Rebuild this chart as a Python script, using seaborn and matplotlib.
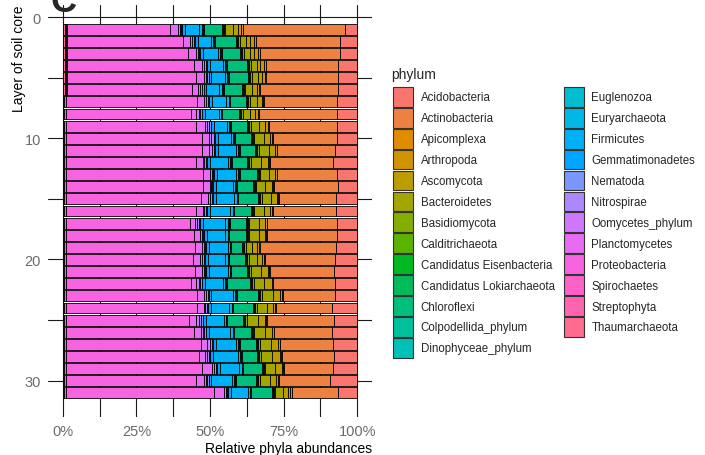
import numpy as np
import pandas as pd
import seaborn as sns
import matplotlib.pyplot as plt
from matplotlib.patches import Patch
from matplotlib.ticker import MultipleLocator, PercentFormatter

# phyla in legend order (ggplot stacks the first level at the right end)
phyla = ['Acidobacteria', 'Actinobacteria', 'Apicomplexa', 'Arthropoda', 'Ascomycota',
         'Bacteroidetes', 'Basidiomycota', 'Calditrichaeota', 'Candidatus Eisenbacteria',
         'Candidatus Lokiarchaeota', 'Chloroflexi', 'Colpodellida_phylum', 'Dinophyceae_phylum',
         'Euglenozoa', 'Euryarchaeota', 'Firmicutes', 'Gemmatimonadetes', 'Nematoda',
         'Nitrospirae', 'Oomycetes_phylum', 'Planctomycetes', 'Proteobacteria',
         'Spirochaetes', 'Streptophyta', 'Thaumarchaeota']

layers = list(range(1, 32))

# relative abundance (%) per layer
acidobacteria = [4.1, 5.8, 6.0, 6.4, 6.4, 6.7, 6.9, 6.9, 6.9, 6.9, 7.5, 8.1, 6.9, 6.4, 7.2, 7.1,
                 6.9, 6.9, 7.1, 7.5, 7.8, 7.5, 7.5, 8.6, 8.0, 8.6, 8.3, 7.8, 8.3, 9.4, 6.7]
actinobacteria = [34.8, 28.6, 27.0, 24.6, 24.5, 26.3, 24.7, 26.3, 22.9, 21.6, 19.6, 21.5, 20.2, 21.8,
                  19.3, 21.6, 23.7, 23.7, 25.9, 23.8, 21.8, 21.0, 17.8, 19.1, 22.7, 19.6, 17.8, 17.7,
                  16.5, 17.2, 15.5]
apicomplexa = [.6, .8, .8, .8, .5, .5, .3, .6, .6, .4, .3, .2, .3, .4, .3, .4,
               .2, .3, .5, .4, .2, .2, .4, .3, .2, .2, .3, .3, .3, .4, .5]
arthropoda = [.9, 1.2, 1.3, 1.2, .8, .7, .5, 1.0, .9, .7, .5, .4, .5, .5, .5, .5,
              .4, .5, .7, .5, .4, .4, .5, .5, .4, .4, .5, .4, .5, .5, .7]
ascomycota = [1.8, 1.4, 1.4, 1.2, 1.5, 1.6, 1.6, 1.6, 1.9, 2.2, 2.2, 2.4, 2.0, 2.1, 2.0, 2.2,
              2.2, 2.1, 1.5, 1.9, 2.4, 2.4, 2.5, 2.2, 2.5, 2.5, 2.5, 2.6, 2.2, 2.2, 1.8]
bacteroidetes = [2.6, 2.1, 2.0, 1.9, 2.2, 2.3, 2.5, 2.5, 2.9, 3.2, 3.4, 3.5, 3.0, 3.1, 3.1, 3.2,
                 3.2, 3.1, 2.2, 2.8, 3.5, 3.7, 3.7, 3.4, 3.7, 3.7, 3.7, 3.9, 3.4, 3.4, 2.6]
basidiomycota = [.5, .5, .5, .5, .5, .5, .5, .5, .5, .5, .5, .5, .5, .5, .5, .5,
                 .5, .5, .5, .5, .5, .5, .5, .5, .5, .5, .5, .5, .5, .5, .5]
calditrichaeota = [.2, .2, .2, .2, .2, .2, .2, .2, .2, .2, .2, .2, .2, .2, .2, .2,
                   .2, .2, .2, .2, .2, .2, .2, .2, .2, .2, .2, .2, .2, .2, .2]
eisenbacteria = [.2, .2, .2, .2, .2, .2, .2, .2, .2, .2, .2, .2, .2, .2, .2, .2,
                 .2, .2, .2, .2, .2, .2, .2, .2, .2, .2, .2, .2, .2, .2, .2]
lokiarchaeota = [.3, .3, .3, .3, .3, .3, .3, .3, .3, .3, .3, .3, .3, .3, .3, .3,
                 .3, .3, .3, .3, .3, .3, .3, .3, .3, .3, .3, .3, .3, .3, .3]
chloroflexi = [6.2, 7.2, 6.3, 6.8, 6.3, 6.1, 5.5, 5.7, 5.7, 5.3, 5.1, 5.3, 5.7, 5.4, 6.8, 5.7,
               5.4, 5.9, 3.7, 5.3, 5.5, 7.9, 7.1, 7.0, 5.4, 5.7, 5.5, 5.3, 6.5, 6.8, 7.0]
colpodellida = [.2, .2, .2, .2, .2, .2, .1, .1, .1, .2, .2, .2, .2, .2, .1, .1,
                .2, .1, .1, .2, .1, .2, .2, .1, .1, .1, .2, .2, .1, .2, .1]
dinophyceae = [.2, .2, .2, .3, .2, .2, .2, .2, .2, .2, .2, .2, .2, .2, .2, .1,
               .3, .1, .1, .2, .1, .2, .3, .1, .2, .1, .2, .2, .1, .2, .1]
euglenozoa = [.2, .2, .2, .3, .3, .2, .2, .2, .2, .2, .2, .2, .2, .2, .2, .2,
              .3, .1, .1, .2, .1, .2, .3, .1, .2, .2, .2, .2, .1, .3, .1]
euryarchaeota = [.8, .8, .8, .8, .8, .8, .8, .8, .8, .8, .8, .8, .8, .8, .8, .8,
                 .8, .8, .8, .8, .8, .8, .8, .8, .8, .8, .8, .8, .8, .8, .8]
firmicutes = [5.0, 4.4, 5.0, 4.4, 4.6, 4.4, 4.7, 4.7, 4.5, 4.4, 6.1, 6.1, 6.3, 5.6, 6.2, 7.0,
              7.6, 6.1, 6.5, 5.9, 6.5, 6.1, 7.2, 6.4, 5.9, 7.3, 6.7, 8.4, 6.7, 6.9, 5.7]
gemmatimonadetes = [1.0, 1.0, 1.0, 1.0, 1.0, 1.0, 1.0, 1.0, 1.0, 1.0, 1.0, 1.0, 1.0, 1.0, 1.0, 1.0,
                    1.0, 1.0, 1.0, 1.0, 1.0, 1.0, 1.0, 1.0, 1.0, 1.0, 1.0, 1.0, 1.0, 1.0, 1.0]
nematoda = [.3, .4, .3, .4, .4, .5, .5, .5, .5, .5, .5, .3, .4, .3, .4, .3,
            .4, .4, .3, .4, .3, .5, .3, .3, .6, .5, .5, .5, .4, .4, .4]
nitrospirae = [.4, .6, .5, .6, .6, .6, .7, .6, .7, .7, .6, .5, .5, .4, .6, .5,
               .6, .5, .5, .6, .5, .6, .5, .5, .9, .6, .7, .6, .5, .6, .5]
oomycetes = [.5, .7, .5, .7, .7, .7, .8, .7, .8, .8, .8, .6, .6, .4, .7, .6,
             .7, .6, .6, .7, .6, .7, .6, .6, 1.0, .7, .8, .7, .6, .7, .6]
planctomycetes = [2.8, 2.5, 2.7, 2.5, 2.6, 2.0, 2.1, 1.9, 3.0, 2.3, 2.4, 2.4, 2.3, 2.3, 2.6, 2.3,
                  1.7, 1.9, 2.3, 2.5, 2.3, 2.0, 2.6, 2.3, 2.2, 2.1, 2.2, 1.9, 3.4, 2.6, 3.2]
proteobacteria = [34.8, 39.1, 41.0, 43.1, 43.6, 42.4, 44.7, 42.5, 44.2, 46.4, 46.4, 44.1, 46.7, 46.7,
                  45.8, 44.2, 42.2, 43.7, 43.9, 43.1, 43.9, 42.4, 44.5, 44.5, 42.0, 43.7, 45.9, 45.3,
                  46.4, 44.2, 50.5]
spirochaetes = [.4, .4, .4, .4, .4, .4, .4, .4, .4, .4, .4, .4, .4, .4, .4, .4,
                .4, .4, .4, .4, .4, .4, .4, .4, .4, .4, .4, .4, .4, .4, .4]
streptophyta = [.4, .4, .4, .4, .4, .4, .4, .4, .4, .4, .4, .4, .4, .4, .4, .4,
                .4, .4, .4, .4, .4, .4, .4, .4, .4, .4, .4, .4, .4, .4, .4]
thaumarchaeota = [.8, .8, .8, .8, .8, .8, .2, .2, .2, .2, .2, .2, .2, .2, .2, .2,
                  .2, .2, .2, .2, .2, .2, .2, .2, .2, .2, .2, .2, .2, .2, .2]

series = [acidobacteria, actinobacteria, apicomplexa, arthropoda, ascomycota, bacteroidetes,
          basidiomycota, calditrichaeota, eisenbacteria, lokiarchaeota, chloroflexi, colpodellida,
          dinophyceae, euglenozoa, euryarchaeota, firmicutes, gemmatimonadetes, nematoda,
          nitrospirae, oomycetes, planctomycetes, proteobacteria, spirochaetes, streptophyta,
          thaumarchaeota]

df = pd.DataFrame([(l, p, v) for p, vals in zip(phyla, series) for l, v in zip(layers, vals)],
                  columns=['layer', 'phylum', 'value'])


# ggplot default hue palette (hcl, c=100, l=65)
def hcl_hex(h, c=100, l=65):
    hr = np.radians(h)
    u, v = c * np.cos(hr), c * np.sin(hr)
    Xn, Yn, Zn = 95.047, 100.0, 108.883
    un = 4 * Xn / (Xn + 15 * Yn + 3 * Zn)
    vn = 9 * Yn / (Xn + 15 * Yn + 3 * Zn)
    Y = Yn * ((l + 16) / 116) ** 3
    up = u / (13 * l) + un
    vp = v / (13 * l) + vn
    X = Y * 9 * up / (4 * vp)
    Z = Y * (12 - 3 * up - 20 * vp) / (4 * vp)
    rgb = np.array([3.240479 * X - 1.537150 * Y - 0.498535 * Z,
                    -0.969256 * X + 1.875992 * Y + 0.041556 * Z,
                    0.055648 * X - 0.204043 * Y + 1.057311 * Z]) / 100
    rgb = np.where(rgb <= 0.0031308, 12.92 * rgb, 1.055 * np.abs(rgb) ** (1 / 2.4) - 0.055)
    return tuple(np.clip(rgb, 0, 1))


hues = np.linspace(15, 375, len(phyla) + 1)[:-1]
colors = [hcl_hex(h) for h in hues]
pal = dict(zip(phyla, colors))

sns.set_theme(style='white')
plt.rcParams['font.family'] = ['Liberation Sans', 'DejaVu Sans']

fig = plt.figure(figsize=(7.05, 4.56), dpi=100)
ax = fig.add_axes([48 / 705, 1 - 418 / 456, 324 / 705, 412 / 456])

sns.histplot(data=df, y='layer', hue='phylum', weights='value', hue_order=phyla,
             multiple='fill', discrete=True, shrink=0.9, palette=pal, alpha=1,
             edgecolor='black', linewidth=0.6, legend=False, ax=ax)

ax.set_xlim(-0.05, 1.05)
ax.set_ylim(32.995, -0.995)
ax.xaxis.set_major_locator(MultipleLocator(0.25))
ax.xaxis.set_minor_locator(MultipleLocator(0.125))
ax.yaxis.set_major_locator(MultipleLocator(10))
ax.yaxis.set_minor_locator(MultipleLocator(5))
ax.xaxis.set_major_formatter(PercentFormatter(1.0, decimals=0))
ax.set_axisbelow(True)
ax.grid(which='both', color='#1a1a1a', linewidth=0.8)
for s in ax.spines.values():
    s.set_visible(False)
ax.tick_params(axis='both', which='major', length=3, color='#555555',
               labelcolor='#6b6b6b', labelsize=10.5, pad=2)
ax.tick_params(which='minor', length=0)

ax.set_xlabel('Relative phyla abundances', loc='right', fontsize=10, color='black', labelpad=2)
ax.set_ylabel('Layer of soil core', loc='top', fontsize=10, color='black', labelpad=-1)

# legend: title as its own text so the gap to the keys matches ggplot
fig.text(391 / 705, 1 - 75 / 456, 'phylum', fontsize=10, ha='left', va='center')
handles = [Patch(facecolor=pal[p], edgecolor='#333333', linewidth=0.8) for p in phyla]
fig.legend(handles, phyla, loc='upper left', ncol=2,
           bbox_to_anchor=(393 / 705, 1 - 88 / 456), frameon=False, fontsize=8.3,
           handlelength=1.73, handleheight=2.26, labelspacing=0.1, borderpad=0,
           columnspacing=0.78, handletextpad=0.67, borderaxespad=0)

fig.text(50 / 705, 1 - 2 / 456, 'C', fontsize=26, fontweight='bold', ha='left', va='center')

fig.savefig('out.png', dpi=100)
